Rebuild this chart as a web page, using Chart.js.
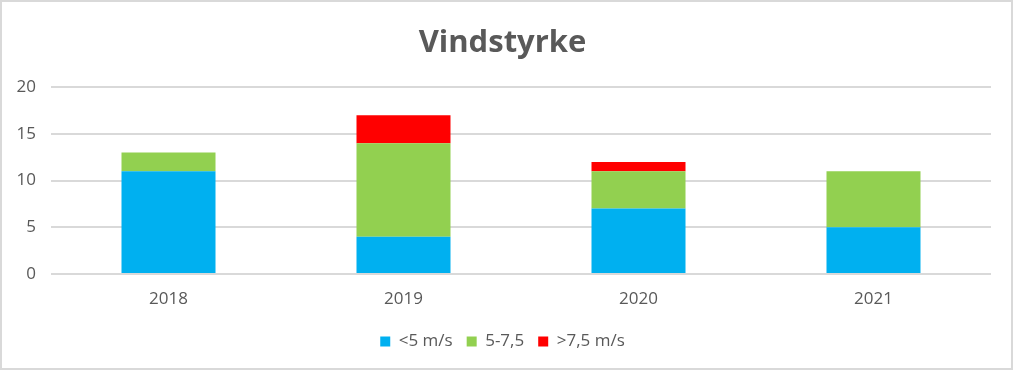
<!DOCTYPE html>
<html>
<head>
<meta charset="utf-8">
<script src="https://cdn.jsdelivr.net/npm/chart.js@4"></script>
<style>
    html, body { margin: 0; padding: 0; background: #fff; }
    #wrap { width: 1013px; height: 370px; position: relative; }
</style>
</head>
<body>
<div id="wrap"><canvas id="chart" width="1013" height="370"></canvas></div>
<script>
    'use strict';

    var years = ['2018', '2019', '2020', '2021'];
    var under5 = [11, 4, 7, 5];
    var mid = [2, 10, 4, 6];
    var over75 = [0, 3, 1, 0];
    var seriesNames = ['<5 m/s', '5-7,5', '>7,5 m/s'];

    var textColor = '#595959';
    var gridColor = '#d9d9d9';
    var fontFamily = '"Open Sans", sans-serif';

    var borderPlugin = {
        id: 'frame',
        beforeDraw: function(chart) {
            var c = chart.ctx;
            c.save();
            c.fillStyle = '#ffffff';
            c.fillRect(0, 0, chart.width, chart.height);
            c.strokeStyle = gridColor;
            c.lineWidth = 2;
            c.strokeRect(1, 1, chart.width - 2, chart.height - 2);
            c.restore();
        }
    };

    function ds(label, data, color) {
        return {
            label: label,
            data: data,
            backgroundColor: color,
            borderWidth: 0,
            categoryPercentage: 1,
            barPercentage: 0.4
        };
    }

    new Chart(document.getElementById('chart'), {
        type: 'bar',
        data: {
            labels: years,
            datasets: [
                ds(seriesNames[0], under5, '#00b0f0'),
                ds(seriesNames[1], mid, '#92d050'),
                ds(seriesNames[2], over75, '#ff0000')
            ]
        },
        options: {
            responsive: false,
            animation: false,
            layout: { padding: { left: 14, right: 22, top: 0, bottom: 10 } },
            plugins: {
                title: {
                    display: true,
                    text: 'Vindstyrke',
                    color: textColor,
                    font: { family: fontFamily, size: 31, weight: 'bold' },
                    padding: { top: 25, bottom: 25 },
                    fullSize: true
                },
                legend: {
                    position: 'bottom',
                    fullSize: true,
                    labels: {
                        color: textColor,
                        font: { family: fontFamily, size: 17 },
                        boxWidth: 10,
                        boxHeight: 10,
                        padding: 14
                    }
                },
                tooltip: { enabled: false }
            },
            scales: {
                x: {
                    stacked: true,
                    grid: { display: false, drawTicks: false },
                    border: { display: false },
                    ticks: { color: textColor, font: { family: fontFamily, size: 17 }, padding: 15 },
                    afterFit: function(scale) { scale.height = 45; }
                },
                y: {
                    stacked: true,
                    min: 0,
                    max: 20,
                    ticks: { stepSize: 5, color: textColor, font: { family: fontFamily, size: 17 }, padding: 15 },
                    grid: { color: gridColor, lineWidth: 2, drawTicks: false },
                    border: { display: false },
                    afterFit: function(scale) { scale.width = 37; }
                }
            }
        },
        plugins: [borderPlugin]
    });
</script>
</body>
</html>
